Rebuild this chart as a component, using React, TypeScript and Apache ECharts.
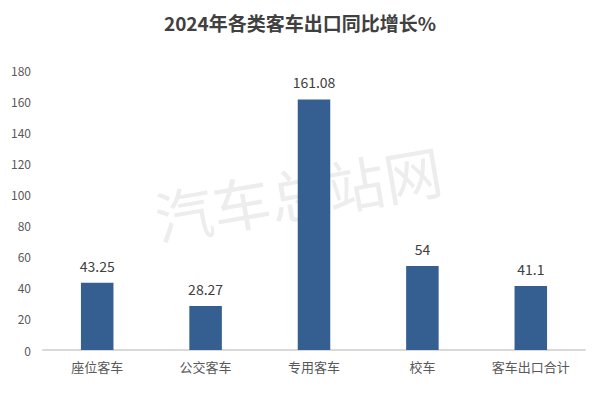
import React, { useEffect, useRef } from "react";
import * as echarts from "echarts";

const categories = ["座位客车", "公交客车", "专用客车", "校车", "客车出口合计"];
const values = [43.25, 28.27, 161.08, 54, 41.1];
const titleText = "2024年各类客车出口同比增长%";
const watermark = "汽车总站网";

export default function App() {
  const ref = useRef<HTMLDivElement>(null);
  useEffect(() => {
    if (!ref.current) return;
    const chart = echarts.init(ref.current, undefined, { renderer: "svg" });
    chart.setOption({
      animation: false,
      backgroundColor: "#ffffff",
      title: {
        text: titleText,
        left: "center",
        top: 8,
        textStyle: {
          fontFamily: "Noto Sans CJK SC",
          fontSize: 19,
          fontWeight: "bold",
          color: "#404040",
        },
      },
      graphic: [
        {
          type: "text",
          x: 298,
          y: 192,
          rotation: 0.17,
          z: -1,
          silent: true,
          style: {
            text: watermark,
            fontFamily: "Noto Sans CJK SC",
            fontSize: 58,
            fontWeight: "normal",
            fill: "#ededed",
            align: "center",
            verticalAlign: "middle",
          },
        },
      ],
      grid: { left: 43, right: 15, top: 70, bottom: 43 },
      xAxis: {
        type: "category",
        data: categories,
        axisLine: { show: true, lineStyle: { color: "#d9d9d9", width: 2 } },
        axisTick: { show: false },
        axisLabel: {
          interval: 0,
          color: "#595959",
          fontSize: 13,
          fontFamily: "Noto Sans CJK SC",
          margin: 10,
        },
      },
      yAxis: {
        type: "value",
        min: 0,
        max: 180,
        interval: 20,
        axisLine: { show: false },
        axisTick: { show: false },
        splitLine: { show: false },
        axisLabel: {
          color: "#595959",
          fontSize: 12,
          fontFamily: "Noto Sans CJK SC",
          margin: 12,
        },
      },
      series: [
        {
          type: "bar",
          data: values,
          barWidth: "30%",
          z: 2,
          itemStyle: { color: "#355f91" },
          label: {
            show: true,
            position: "top",
            distance: 10,
            color: "#404040",
            fontSize: 14,
            fontFamily: "Noto Sans CJK SC",
          },
        },
      ],
    });
    return () => chart.dispose();
  }, []);
  return <div ref={ref} style={{ width: 600, height: 393, position: "absolute", left: 0, top: 0 }} />;
}
